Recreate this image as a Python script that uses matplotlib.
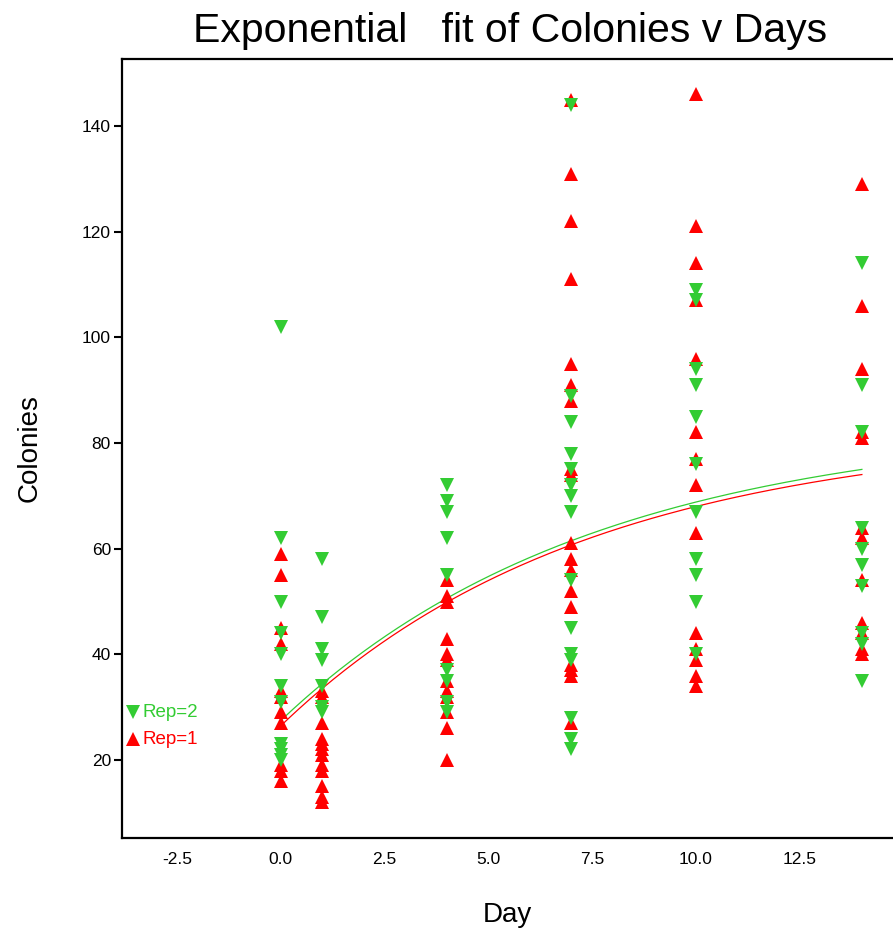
import numpy as np
import matplotlib
matplotlib.use("Agg")
import matplotlib.pyplot as plt

plt.rcParams['font.family'] = ['Liberation Sans', 'DejaVu Sans']

# colonies counted per day, replicate 1 (red, up triangles)
rep1_day = [0]*11 + [1]*12 + [4]*12 + [7]*18 + [10]*14 + [14]*12
rep1_col = [59, 55, 45, 42, 33, 32, 29, 27, 19, 18, 16,
            33, 32, 27, 24, 23, 22, 21, 19, 18, 15, 13, 12,
            54, 51, 50, 43, 40, 39, 35, 33, 32, 29, 26, 20,
            145, 131, 122, 111, 95, 91, 88, 75, 74, 61, 58, 56, 52, 49, 38, 37, 36, 27,
            146, 121, 114, 107, 96, 82, 77, 72, 63, 44, 41, 39, 36, 34,
            129, 106, 94, 82, 81, 64, 62, 54, 46, 44, 41, 40]

# replicate 2 (green, down triangles)
rep2_day = [0]*11 + [1]*7 + [4]*9 + [7]*15 + [10]*11 + [14]*10
rep2_col = [102, 62, 50, 44, 40, 34, 31, 23, 22, 21, 20,
            58, 47, 41, 39, 34, 30, 29,
            72, 69, 67, 62, 55, 37, 35, 31, 29,
            144, 89, 84, 78, 75, 72, 70, 67, 54, 45, 40, 39, 28, 24, 22,
            109, 107, 94, 91, 85, 76, 67, 58, 55, 50, 40,
            114, 91, 82, 64, 60, 57, 53, 44, 42, 35]

# exponential fit parameters y = a - b*exp(-k*x)
fit1 = (82.5, 56.0, 0.135)
fit2 = (83.9, 56.4, 0.132)

red = '#ff0000'
green = '#33cc33'

fig = plt.figure(figsize=(8.93, 9.34), dpi=100)
ax = fig.add_axes([122/893, 96/934, 771/893, 779/934])

ax.plot(rep1_day, rep1_col, linestyle='none', marker='^', ms=9.5, mew=0, color=red, zorder=3)
ax.plot(rep2_day, rep2_col, linestyle='none', marker='v', ms=9.5, mew=0, color=green, zorder=3)

xs = np.linspace(0, 14, 200)
for (a, b, k), c in [(fit2, green), (fit1, red)]:
    ax.plot(xs, a - b*np.exp(-k*xs), color=c, lw=0.9, zorder=2)

ax.set_xlim(-3.83, 14.75)
ax.set_ylim(5.24, 152.7)
ax.set_xticks([-2.5, 0.0, 2.5, 5.0, 7.5, 10.0, 12.5])
ax.set_xticklabels(['-2.5', '0.0', '2.5', '5.0', '7.5', '10.0', '12.5'])
ax.set_yticks([20, 40, 60, 80, 100, 120, 140])

for s in ['left', 'bottom', 'top']:
    ax.spines[s].set_linewidth(1.6)
ax.spines['right'].set_visible(False)
ax.tick_params(direction='out', length=6, width=1.5, labelsize=12.5, pad=2)
ax.tick_params(axis='x', length=0, pad=10)

ax.set_xlabel('Day', fontsize=20, labelpad=25)
ax.set_ylabel('Colonies', fontsize=20, labelpad=28)
fig.text(0.571, 0.967, 'Exponential   fit of Colonies v Days', fontsize=29.5, ha='center', va='center')

# legend in the lower left corner
ax.plot([0.0143], [0.1617], transform=ax.transAxes, marker='v', ms=9.5, mew=0, color=green, clip_on=False)
ax.text(0.026, 0.1617, 'Rep=2', transform=ax.transAxes, color=green, fontsize=13.5, va='center')
ax.plot([0.0143], [0.127], transform=ax.transAxes, marker='^', ms=9.5, mew=0, color=red, clip_on=False)
ax.text(0.026, 0.127, 'Rep=1', transform=ax.transAxes, color=red, fontsize=13.5, va='center')

fig.savefig('out.png', dpi=100)
